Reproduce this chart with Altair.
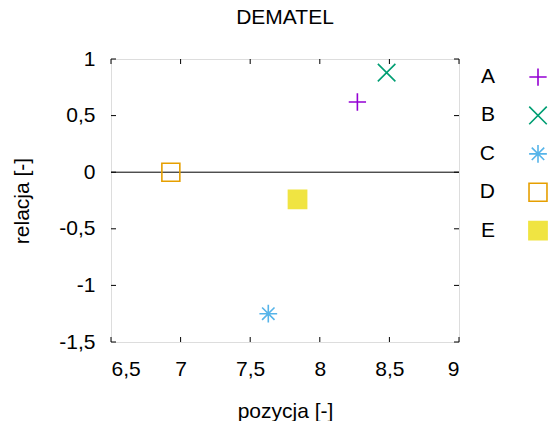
import altair as alt
import pandas as pd

names = ["A", "B", "C", "D", "E"]
pozycja = [8.27, 8.48, 7.63, 6.93, 7.84]
relacja = [0.62, 0.88, -1.25, 0.0, -0.24]
x_ticks = [6.5, 7.0, 7.5, 8.0, 8.5, 9.0]
y_ticks = [-1.5, -1.0, -0.5, 0.0, 0.5, 1.0]

colors = ["#9400d3", "#009e73", "#56b4e9", "#e69f00", "#f0e442"]
fills = ["transparent", "transparent", "transparent", "transparent", "#f0e442"]
shapes = [
    "M-1,0L1,0M0,-1L0,1",
    "M-1,-1L1,1M-1,1L1,-1",
    "M-1,0L1,0M0,-1L0,1M-0.7,-0.7L0.7,0.7M-0.7,0.7L0.7,-0.7",
    "square",
    "square",
]
sizes = [300, 330, 360, 240, 272]

FONT = "Liberation Sans"
FS = 21
W, H = 348, 283

df = pd.DataFrame({"name": names, "pozycja": pozycja, "relacja": relacja})
xt = pd.DataFrame({"v": x_ticks})
yt = pd.DataFrame({"v": y_ticks})

label_expr = "replace(replace(format(datum.value, '.1~f'), '.', ','), '\u2212', '-')"

xscale = alt.Scale(domain=[6.5, 9], nice=False, zero=False)
yscale = alt.Scale(domain=[-1.5, 1], nice=False, zero=False)

xaxis = alt.Axis(values=x_ticks, labelExpr=label_expr, grid=False, ticks=False, domain=False,
                 labelFont=FONT, labelFontSize=FS, labelColor="#000", labelBaseline="alphabetic",
                 labelPadding=33, title="pozycja [-]", titleFont=FONT, titleFontSize=FS,
                 titleFontWeight="normal", titleColor="#000", titleBaseline="alphabetic",
                 titleY=75)
yaxis = alt.Axis(values=y_ticks, labelExpr=label_expr, grid=False, ticks=False, domain=False,
                 labelFont=FONT, labelFontSize=FS, labelColor="#000", labelPadding=16,
                 title="relacja [-]", titleFont=FONT, titleFontSize=FS,
                 titleFontWeight="normal", titleColor="#000", titleBaseline="alphabetic",
                 titleAngle=270, titleX=-83, titleY=H / 2)


def sym_enc():
    return dict(
        stroke=alt.Stroke("name:N", scale=alt.Scale(domain=names, range=colors), legend=None),
        fill=alt.Fill("name:N", scale=alt.Scale(domain=names, range=fills), legend=None),
        shape=alt.Shape("name:N", scale=alt.Scale(domain=names, range=shapes), legend=None),
        size=alt.Size("name:N", scale=alt.Scale(domain=names, range=sizes), legend=None),
    )


points = alt.Chart(df).mark_point(filled=False, strokeWidth=1.6, opacity=1).encode(
    x=alt.X("pozycja:Q", scale=xscale, axis=xaxis),
    y=alt.Y("relacja:Q", scale=yscale, axis=yaxis),
    **sym_enc(),
)

zero = alt.Chart(pd.DataFrame({"z": [0]})).mark_rule(color="#000", strokeWidth=1).encode(
    y=alt.Y("z:Q", scale=yscale, axis=yaxis)
)

tick_c = "#000"
xb = alt.Chart(xt).mark_rule(color=tick_c).encode(
    x=alt.X("v:Q", scale=xscale, axis=xaxis), y=alt.value(H), y2=alt.value(H - 5))
xtp = alt.Chart(xt).mark_rule(color=tick_c).encode(
    x=alt.X("v:Q", scale=xscale, axis=xaxis), y=alt.value(0), y2=alt.value(5))
yl = alt.Chart(yt).mark_rule(color=tick_c).encode(
    y=alt.Y("v:Q", scale=yscale, axis=yaxis), x=alt.value(0), x2=alt.value(5))
yr = alt.Chart(yt).mark_rule(color=tick_c).encode(
    y=alt.Y("v:Q", scale=yscale, axis=yaxis), x=alt.value(W), x2=alt.value(W - 5))

plot_layers = alt.layer(zero, xb, xtp, yl, yr, points)

# legend (label left, symbol right, as in the reference)
leg_base = alt.Chart(df).transform_window(row="row_number()")
ly = alt.Y("row:Q", axis=None, scale=alt.Scale(domain=[0.53, 7.9], reverse=True, nice=False, zero=False))
leg_text = leg_base.mark_text(align="right", baseline="middle", font=FONT, fontSize=FS, color="#000").encode(
    y=ly, x=alt.value(384), text="name:N"
)
leg_pts = leg_base.mark_point(filled=False, strokeWidth=1.6, opacity=1).encode(
    y=ly, x=alt.value(427), **sym_enc()
)
legend_layers = alt.layer(leg_text, leg_pts)

chart = alt.layer(plot_layers, legend_layers).resolve_scale(y="independent").properties(
    width=W, height=H,
    title=alt.TitleParams("DEMATEL", font=FONT, fontSize=FS, fontWeight="normal", color="#000",
                          anchor="middle", frame="group", baseline="alphabetic", offset=3),
    autosize=alt.AutoSizeParams(type="none"),
    padding={"left": 111, "top": 59, "right": 89, "bottom": 79},
).configure_view(stroke="#000", strokeWidth=1).configure(background="white")

chart.save("out.html", embed_options={"renderer": "svg", "actions": False})
